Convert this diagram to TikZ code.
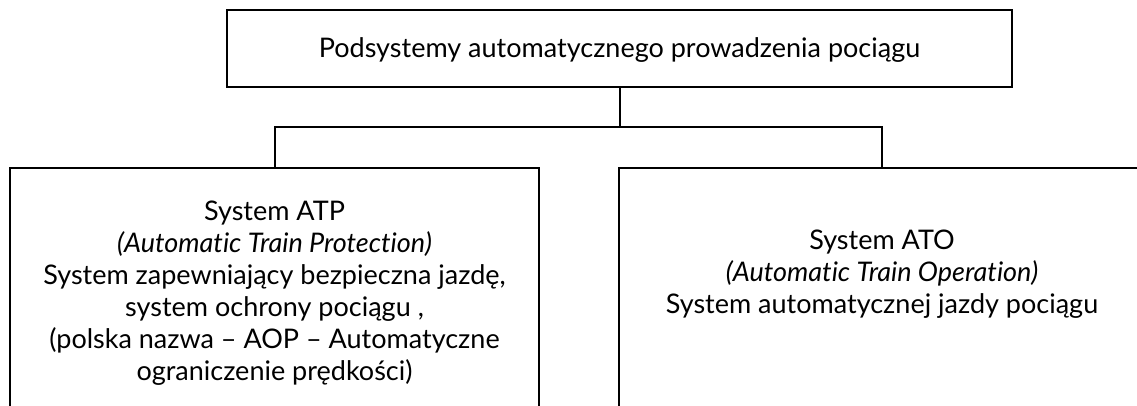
\documentclass[tikz,border=0pt]{standalone}
\usepackage{fontspec}
\setmainfont[Ligatures=NoCommon]{Lato}
\begin{document}
\begin{tikzpicture}[x=1pt,y=-1pt,
  frame/.style={draw=black,line width=2pt,inner sep=0pt},
  label/.style={align=center,inner sep=0pt,font=\fontsize{27}{32}\selectfont},
  link/.style={draw=black,line width=2pt}]
\useasboundingbox (0,0) rectangle (1137,406);
\clip (0,0) rectangle (1137,406);
% root box
\node[frame,minimum width=785pt,minimum height=77pt] (root) at (619.5,48.5) {};
\node[label] (roottext) at (619.5,50) {Podsystemy automatycznego prowadzenia pociągu};
% child boxes (they run past the lower and right edges)
\node[frame,minimum width=529pt,minimum height=272pt] (atp) at (274.5,304) {};
\node[frame,minimum width=526pt,minimum height=272pt] (ato) at (882,304) {};
\node[label] (atptext) at (274.5,293) {System ATP\\\textit{(Automatic Train Protection)}\\System zapewniający bezpieczna jazdę,\\system ochrony pociągu ,\\(polska nazwa – AOP – Automatyczne\\ograniczenie prędkości)};
\node[label] (atotext) at (882,274) {System ATO\\\textit{(Automatic Train Operation)}\\System automatycznej jazdy pociągu};
% connectors
\coordinate (bus) at (619.5,127);
\draw[link] (root.south) -- (bus);
\draw[link] (atp.north) |- (bus) -| (ato.north);
\end{tikzpicture}
\end{document}
